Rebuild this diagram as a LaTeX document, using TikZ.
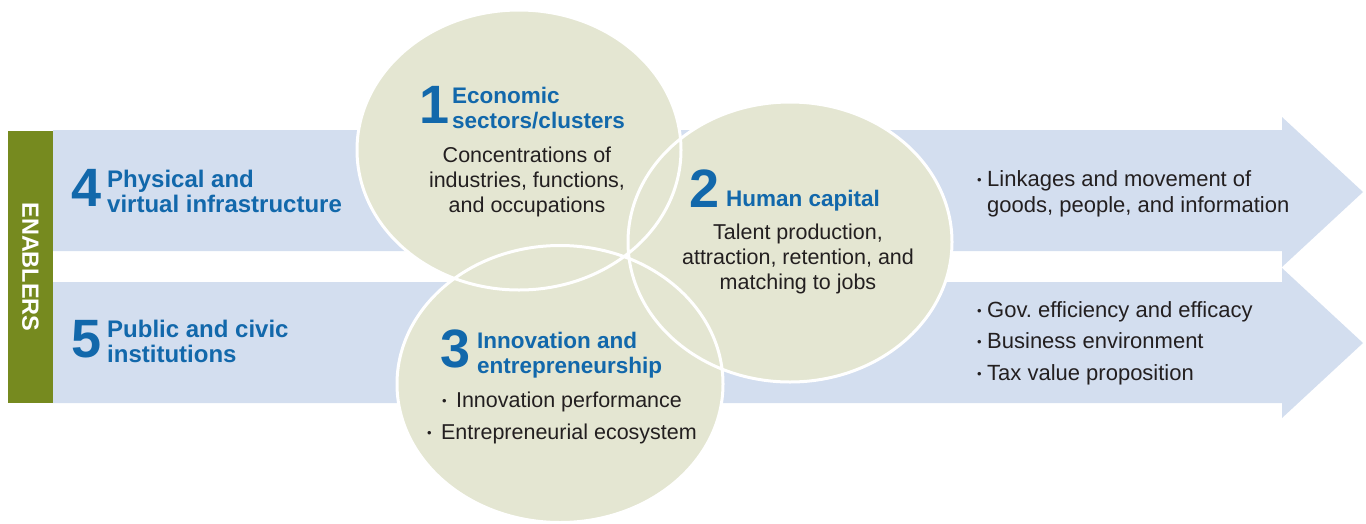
\documentclass[tikz,border=0pt]{standalone}
\usepackage{fontspec}
\setmainfont{Liberation Sans}
\definecolor{arrowblue}{HTML}{D3DEEF}
\definecolor{circfill}{HTML}{E4E6D2}
\definecolor{enabgreen}{HTML}{768A1F}
\definecolor{headblue}{HTML}{1268AB}
\definecolor{bodytext}{HTML}{231F20}
\newcommand{\bul}[1][10pt]{\makebox[#1][l]{\raisebox{1.6pt}{\fontsize{13}{13}\selectfont •}}}
\begin{document}
\begin{tikzpicture}[x=1pt,y=-1pt,
  bignum/.style={font=\fontsize{54}{54}\selectfont\bfseries, text=headblue, inner sep=0pt, anchor=base east},
  heading/.style={font=\fontsize{22.5}{25}\selectfont\bfseries, text=headblue, inner sep=0pt, align=left, anchor=base west},
  enabhead/.style={heading, font=\fontsize{24}{25}\selectfont\bfseries},
  body/.style={font=\fontsize{21.5}{25}\selectfont, text=bodytext, inner sep=0pt, align=center, anchor=base},
  listtext/.style={font=\fontsize{22}{26}\selectfont, text=bodytext, inner sep=0pt, align=left, anchor=base west},
  bigarrow/.style={fill=arrowblue},
  circ/.style={fill=circfill},
  circline/.style={draw=white, line width=3pt}
]
\useasboundingbox (0,0) rectangle (1366,523);
% arrows
\fill[bigarrow] (53,130) -- (1282,130) -- (1282,117) -- (1363,192) -- (1282,267) -- (1282,251) -- (53,251) -- cycle;
\fill[bigarrow] (53,282) -- (1282,282) -- (1282,268) -- (1363,343) -- (1282,418) -- (1282,403) -- (53,403) -- cycle;
% enablers bar
\fill[enabgreen] (8,131) rectangle (53,403);
\node[rotate=-90, text=white, font=\fontsize{23.5}{23.5}\selectfont\bfseries, inner sep=0pt] (enab) at (30.5,267) {ENABLERS};
% circles
\fill[circ] (519,150) ellipse [x radius=162pt, y radius=140pt];
\fill[circ] (790,242) ellipse [x radius=162pt, y radius=140pt];
\fill[circ] (560,384) ellipse [x radius=163pt, y radius=138.5pt];
\draw[circline] (519,150) ellipse [x radius=162pt, y radius=140pt];
\draw[circline] (790,242) ellipse [x radius=162pt, y radius=140pt];
\draw[circline] (560,384) ellipse [x radius=163pt, y radius=138.5pt];
% enabler 4
\node[bignum] (n4) at (102,206) {4};
\node[enabhead] (h4) at (107,212) {Physical and\\virtual infrastructure};
% enabler 5
\node[bignum] (n5) at (102,357) {5};
\node[enabhead] (h5) at (107,362) {Public and civic\\institutions};
% circle 1
\node[bignum] (n1) at (450,123) {1};
\node[heading] (h1) at (452,128) {Economic\\sectors/clusters};
\node[body] (b1) at (527,212) {Concentrations of\\industries, functions,\\and occupations};
% circle 2
\node[bignum] (n2) at (720,207) {2};
\node[heading] (h2) at (726,206) {Human capital};
\node[body] (b2) at (798,289) {Talent production,\\attraction, retention, and\\matching to jobs};
% circle 3
\node[bignum] (n3) at (471,367) {3};
\node[heading] (h3) at (477,373) {Innovation and\\entrepreneurship};
\node[body, font=\fontsize{21.5}{32}\selectfont] (b3) at (562,439) {\bul[14pt]Innovation performance\\\bul[14pt]Entrepreneurial ecosystem};
% right lists
\node[listtext] (r1) at (977,212) {\bul Linkages and movement of\\\hspace{10pt}goods, people, and information};
\node[listtext, font=\fontsize{22}{31.5}\selectfont] (r2) at (977,380) {\bul Gov.\ efficiency and efficacy\\\bul Business environment\\\bul Tax value proposition};
\end{tikzpicture}
\end{document}
